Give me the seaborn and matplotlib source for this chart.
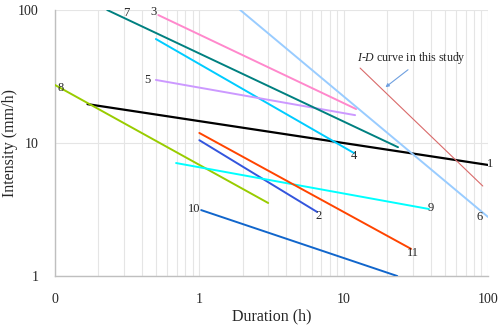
import matplotlib
matplotlib.use("Agg")
import matplotlib.pyplot as plt
import seaborn as sns
import pandas as pd
from matplotlib.ticker import LogLocator, FixedLocator, NullFormatter

# I-D curves: (start duration, start intensity, end duration, end intensity)
curve_ids = ["1", "2", "3", "4", "5", "6", "7", "8", "9", "10", "11", "study"]
dur_start = [0.168, 1.0, 0.52, 0.5, 0.5, 1.92, 0.23, 0.1, 0.69, 1.03, 1.0, 13.0]
int_start = [19.6, 10.5, 91.6, 60.5, 29.8, 100.0, 100.0, 27.3, 7.07, 3.13, 11.9, 36.6]
dur_end = [100.0, 6.55, 12.2, 11.8, 12.0, 100.0, 23.8, 3.0, 39.0, 23.5, 29.3, 92.0]
int_end = [6.84, 3.03, 18.0, 8.4, 16.2, 2.78, 9.3, 3.54, 3.19, 1.0, 1.6, 4.75]
colors = ["#000000", "#3355DD", "#FF88CC", "#00CCFF", "#CC99FF", "#99CCFF",
          "#008080", "#99CC00", "#00FFFF", "#1166CC", "#FF4400", "#D96A6A"]
widths = [1.6, 1.4, 1.4, 1.4, 1.4, 1.4, 1.4, 1.4, 1.4, 1.4, 1.4, 0.8]

# label positions (duration, intensity) next to the curves
label_text = ["1", "2", "3", "4", "5", "6", "7", "8", "9", "10", "11"]
label_x = [104, 6.7, 0.48, 11.8, 0.44, 88, 0.31, 0.11, 40, 0.92, 30]
label_y = [6.9, 2.85, 97, 8.0, 30, 2.8, 95, 26, 3.25, 3.2, 1.5]

rows = []
for i, c in enumerate(curve_ids):
    rows.append({"curve": c, "duration": dur_start[i], "intensity": int_start[i]})
    rows.append({"curve": c, "duration": dur_end[i], "intensity": int_end[i]})
df = pd.DataFrame(rows)

sns.set_style("white")
plt.rcParams["font.family"] = ["Liberation Serif", "DejaVu Serif"]
plt.rcParams["mathtext.fontset"] = "custom"
plt.rcParams["mathtext.it"] = "Liberation Serif:italic"
plt.rcParams["mathtext.rm"] = "Liberation Serif"

fig = plt.figure(figsize=(5, 3.28), dpi=100)
ax = fig.add_axes([0.11, 0.1585, 0.866, 0.811])
ax.set_xscale("log")
ax.set_yscale("log")

for i, c in enumerate(curve_ids):
    sns.lineplot(data=df[df["curve"] == c], x="duration", y="intensity", ax=ax,
                 color=colors[i], linewidth=widths[i], legend=False, zorder=3)

for t, x, y in zip(label_text, label_x, label_y):
    ax.text(x, y, t, fontsize=9, ha="center", va="center", zorder=4)

# annotation for the study curve
ax.annotate("", xy=(18.8, 25.5), xytext=(28.9, 36.6),
            arrowprops=dict(arrowstyle="-|>", color="#6FA0E0", lw=0.8,
                            mutation_scale=5), zorder=4)
ax.text(12.4, 43.6, r"$I$-$D$ curve in this study", fontsize=8.6,
        ha="left", va="center")

ax.set_xlim(0.1, 100)
ax.set_ylim(1, 100)

ax.xaxis.set_major_locator(FixedLocator([0.1, 1, 10, 100]))
ax.xaxis.set_minor_locator(LogLocator(base=10, subs=range(2, 10)))
ax.xaxis.set_minor_formatter(NullFormatter())
ax.set_xticks([0.1, 1, 10, 100])
ax.set_xticklabels(["0", "1", "10", "100"])
ax.yaxis.set_major_locator(FixedLocator([1, 10, 100]))
ax.yaxis.set_minor_locator(FixedLocator([]))
ax.set_yticks([1, 10, 100])
ax.set_yticklabels(["1", "10", "100"])

ax.grid(True, which="both", axis="x", color="#E5E5E5", linewidth=0.8)
ax.grid(True, which="major", axis="y", color="#E5E5E5", linewidth=0.8)
ax.set_axisbelow(True)

for s in ["top", "right"]:
    ax.spines[s].set_visible(False)
for s in ["left", "bottom"]:
    ax.spines[s].set_color("#BFBFBF")
    ax.spines[s].set_linewidth(1.0)

ax.tick_params(axis="both", which="both", length=0, labelsize=10)
ax.tick_params(axis="x", pad=12)
ax.tick_params(axis="y", pad=12)

ax.set_xlabel("Duration (h)", fontsize=11.5, labelpad=2)
ax.set_ylabel("Intensity (mm/h)", fontsize=11.5)
ax.yaxis.set_label_coords(-0.085, 0.5)

fig.savefig("out.png", dpi=100)
